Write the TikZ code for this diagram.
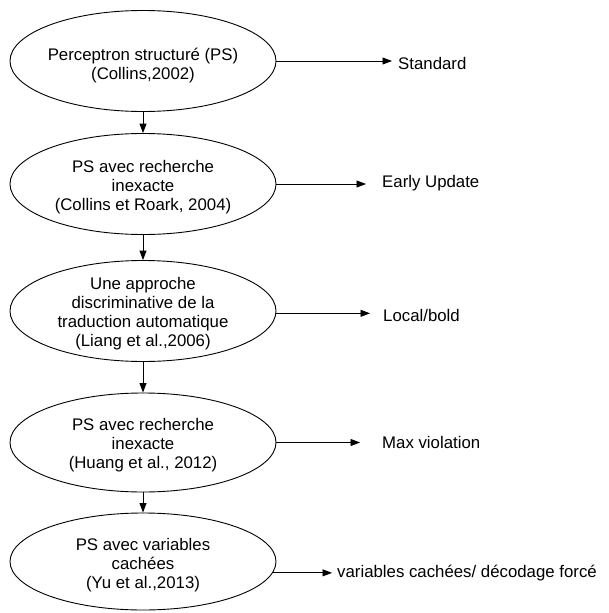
\documentclass[tikz,border=0pt]{standalone}
\usepackage{fontspec}
\setmainfont{Liberation Sans}
\usetikzlibrary{arrows.meta,shapes.geometric}

\tikzset{
  stage/.style={draw=black, line width=0.9pt, ellipse, inner sep=0pt,
                minimum width=266pt, minimum height=101pt},
  stagetext/.style={align=center, inner sep=0pt,
                    font=\fontsize{16.8}{19}\selectfont},
  outcome/.style={anchor=west, inner sep=0pt,
                  font=\fontsize{16.8}{19}\selectfont},
  flow/.style={line width=0.9pt, -{Triangle[length=9.5pt,width=7pt]}},
}

\begin{document}
\begin{tikzpicture}[x=1pt, y=-1pt]
  \useasboundingbox (0,0) rectangle (608,613);

  % stages of the perceptron lineage
  \node[stage] (e1) at (143,61)    {};
  \node[stage] (e2) at (143,184)   {};
  \node[stage] (e3) at (143,311)   {};
  \node[stage, minimum height=99pt] (e4) at (143,442.5) {};
  \node[stage, minimum height=97pt] (e5) at (143,561.5) {};

  \node[stagetext] (s1) at (143,66)  {Perceptron structuré (PS)\\(Collins,2002)};
  \node[stagetext] (s2) at (143,187) {PS avec recherche\\inexacte\\(Collins et Roark, 2004)};
  \node[stagetext] (s3) at (143,314) {Une approche\\discriminative de la\\traduction automatique\\(Liang et al.,2006)};
  \node[stagetext] (s4) at (143,445) {PS avec recherche\\inexacte\\(Huang et al., 2012)};
  \node[stagetext] (s5) at (143,565) {PS avec variables\\cachées\\(Yu et al.,2013)};

  % update strategies
  \coordinate (t1) at (392,63);
  \coordinate (t2) at (366,183);
  \coordinate (t3) at (370,315);
  \coordinate (t4) at (360,442);
  \coordinate (t5) at (332,573);

  \node[outcome] (o1) at (398,63)  {Standard};
  \node[outcome] (o2) at (382,183) {Early Update};
  \node[outcome] (o3) at (383,315) {Local/bold};
  \node[outcome] (o4) at (382,442) {Max violation};
  \node[outcome] (o5) at (337,573) {variables cachées/ décodage forcé};

  % vertical chain
  \draw[flow] (e1.south) -- (e2.north);
  \draw[flow] (e2.south) -- (e3.north);
  \draw[flow] (e3.south) -- (e4.north);
  \draw[flow] (e4.south) -- (e5.north);

  % links to the strategies
  \draw[flow] (e1.-0.9) -- (e1.-0.9 -| t1);
  \draw[flow] (e2.0.4)  -- (e2.0.4 -| t2);
  \draw[flow] (e3.-1.6) -- (e3.-1.6 -| t3);
  \draw[flow] (e4.east) -- (e4.east -| t4);
  \draw[flow] (e5.-5.1) -- (e5.-5.1 -| t5);
\end{tikzpicture}
\end{document}
